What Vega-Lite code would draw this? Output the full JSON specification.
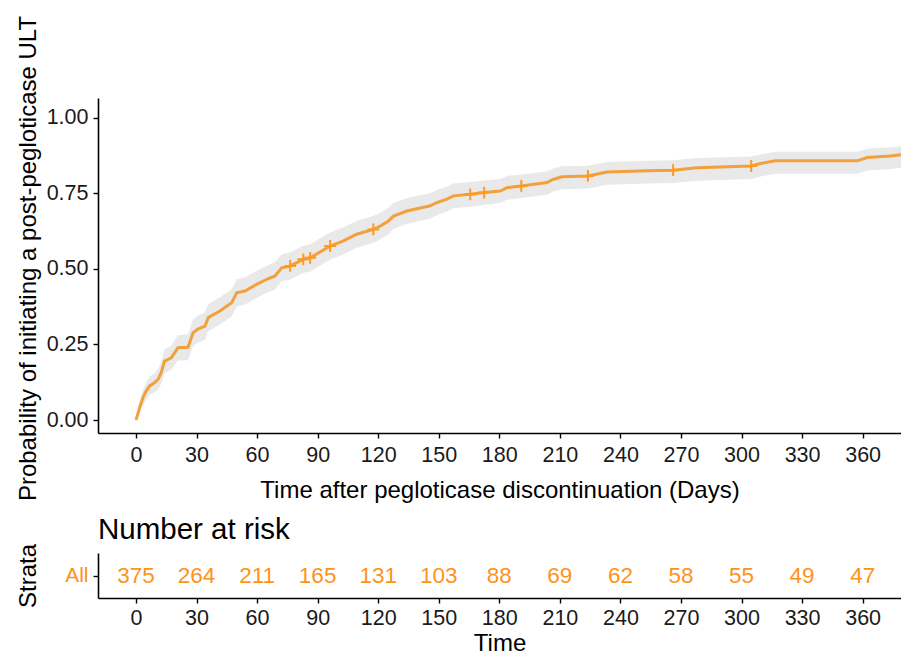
{
  "$schema": "https://vega.github.io/schema/vega-lite/v6.json",
  "background": "white",
  "padding": {"left": 15, "top": 15, "right": 0, "bottom": 0},
  "spacing": 11,
  "datasets": {
    "curve": [
      {"t": 0, "est": 0, "lo": 0, "hi": 0},
      {"t": 0.6, "est": 0.013, "lo": 0.002, "hi": 0.024},
      {"t": 2, "est": 0.045, "lo": 0.024, "hi": 0.066},
      {"t": 3.5, "est": 0.074, "lo": 0.048, "hi": 0.1},
      {"t": 5, "est": 0.095, "lo": 0.067, "hi": 0.123},
      {"t": 6.8, "est": 0.113, "lo": 0.083, "hi": 0.143},
      {"t": 9.3, "est": 0.124, "lo": 0.092, "hi": 0.156},
      {"t": 11, "est": 0.135, "lo": 0.1, "hi": 0.17},
      {"t": 12.5, "est": 0.157, "lo": 0.12, "hi": 0.194},
      {"t": 14.2, "est": 0.195, "lo": 0.156, "hi": 0.234},
      {"t": 17.5, "est": 0.206, "lo": 0.166, "hi": 0.246},
      {"t": 20.8, "est": 0.239, "lo": 0.197, "hi": 0.281},
      {"t": 25.8, "est": 0.241, "lo": 0.198, "hi": 0.284},
      {"t": 28.3, "est": 0.289, "lo": 0.245, "hi": 0.333},
      {"t": 30.7, "est": 0.301, "lo": 0.256, "hi": 0.346},
      {"t": 34.2, "est": 0.311, "lo": 0.266, "hi": 0.356},
      {"t": 35.8, "est": 0.339, "lo": 0.294, "hi": 0.384},
      {"t": 41.6, "est": 0.361, "lo": 0.316, "hi": 0.406},
      {"t": 47.4, "est": 0.388, "lo": 0.343, "hi": 0.433},
      {"t": 49.9, "est": 0.421, "lo": 0.376, "hi": 0.466},
      {"t": 54, "est": 0.427, "lo": 0.382, "hi": 0.472},
      {"t": 59.8, "est": 0.449, "lo": 0.404, "hi": 0.494},
      {"t": 64.8, "est": 0.466, "lo": 0.421, "hi": 0.511},
      {"t": 68.9, "est": 0.477, "lo": 0.432, "hi": 0.522},
      {"t": 72.2, "est": 0.504, "lo": 0.459, "hi": 0.549},
      {"t": 76.4, "est": 0.51, "lo": 0.465, "hi": 0.555},
      {"t": 82.9, "est": 0.532, "lo": 0.487, "hi": 0.577},
      {"t": 86.3, "est": 0.537, "lo": 0.492, "hi": 0.582},
      {"t": 96.2, "est": 0.576, "lo": 0.531, "hi": 0.621},
      {"t": 102.8, "est": 0.593, "lo": 0.548, "hi": 0.638},
      {"t": 109.4, "est": 0.615, "lo": 0.57, "hi": 0.66},
      {"t": 117.6, "est": 0.631, "lo": 0.587, "hi": 0.675},
      {"t": 121, "est": 0.642, "lo": 0.598, "hi": 0.686},
      {"t": 125.1, "est": 0.659, "lo": 0.615, "hi": 0.703},
      {"t": 127.6, "est": 0.675, "lo": 0.632, "hi": 0.718},
      {"t": 134.2, "est": 0.692, "lo": 0.649, "hi": 0.735},
      {"t": 145.8, "est": 0.709, "lo": 0.667, "hi": 0.751},
      {"t": 149.1, "est": 0.72, "lo": 0.678, "hi": 0.762},
      {"t": 154, "est": 0.731, "lo": 0.69, "hi": 0.772},
      {"t": 157.3, "est": 0.742, "lo": 0.701, "hi": 0.783},
      {"t": 165.6, "est": 0.747, "lo": 0.706, "hi": 0.788},
      {"t": 172.5, "est": 0.753, "lo": 0.712, "hi": 0.793},
      {"t": 180.5, "est": 0.758, "lo": 0.718, "hi": 0.798},
      {"t": 183.8, "est": 0.769, "lo": 0.729, "hi": 0.808},
      {"t": 190.9, "est": 0.775, "lo": 0.735, "hi": 0.813},
      {"t": 203.6, "est": 0.786, "lo": 0.746, "hi": 0.823},
      {"t": 206.9, "est": 0.797, "lo": 0.757, "hi": 0.833},
      {"t": 211.1, "est": 0.805, "lo": 0.764, "hi": 0.84},
      {"t": 223.9, "est": 0.808, "lo": 0.766, "hi": 0.842},
      {"t": 233.4, "est": 0.821, "lo": 0.779, "hi": 0.854},
      {"t": 253.2, "est": 0.825, "lo": 0.783, "hi": 0.858},
      {"t": 266.1, "est": 0.827, "lo": 0.785, "hi": 0.86},
      {"t": 278, "est": 0.835, "lo": 0.792, "hi": 0.867},
      {"t": 304.8, "est": 0.841, "lo": 0.798, "hi": 0.872},
      {"t": 309.4, "est": 0.849, "lo": 0.806, "hi": 0.879},
      {"t": 316.8, "est": 0.858, "lo": 0.815, "hi": 0.888},
      {"t": 357.3, "est": 0.858, "lo": 0.815, "hi": 0.888},
      {"t": 362.3, "est": 0.869, "lo": 0.826, "hi": 0.898},
      {"t": 373.8, "est": 0.874, "lo": 0.831, "hi": 0.903},
      {"t": 379, "est": 0.878, "lo": 0.835, "hi": 0.906}
    ],
    "censor": [
      {"t": 76.4, "est": 0.51},
      {"t": 82.9, "est": 0.532},
      {"t": 86.3, "est": 0.537},
      {"t": 96.2, "est": 0.576},
      {"t": 117.6, "est": 0.631},
      {"t": 165.6, "est": 0.747},
      {"t": 172.5, "est": 0.753},
      {"t": 190.9, "est": 0.775},
      {"t": 223.9, "est": 0.808},
      {"t": 266.1, "est": 0.827},
      {"t": 304.8, "est": 0.841}
    ],
    "risk": [
      {"t": 0, "strata": "All", "n": 375},
      {"t": 30, "strata": "All", "n": 264},
      {"t": 60, "strata": "All", "n": 211},
      {"t": 90, "strata": "All", "n": 165},
      {"t": 120, "strata": "All", "n": 131},
      {"t": 150, "strata": "All", "n": 103},
      {"t": 180, "strata": "All", "n": 88},
      {"t": 210, "strata": "All", "n": 69},
      {"t": 240, "strata": "All", "n": 62},
      {"t": 270, "strata": "All", "n": 58},
      {"t": 300, "strata": "All", "n": 55},
      {"t": 330, "strata": "All", "n": 49},
      {"t": 360, "strata": "All", "n": 47}
    ]
  },
  "config": {
    "font": "Liberation Sans",
    "view": {"stroke": null},
    "axis": {
      "grid": false,
      "domainColor": "#000000",
      "domainWidth": 1.6,
      "tickColor": "#000000",
      "tickWidth": 1.4,
      "tickSize": 5,
      "labelColor": "#1a1a1a",
      "labelFont": "Liberation Sans",
      "labelFontSize": 21.5,
      "titleFont": "Liberation Sans",
      "titleFontSize": 24,
      "titleFontWeight": "normal",
      "titleColor": "#000000"
    }
  },
  "vconcat": [
    {
      "width": 803,
      "height": 335,
      "layer": [
        {
          "data": {"name": "curve"},
          "mark": {"type": "area", "color": "#E9E9E9", "clip": true},
          "encoding": {
            "x": {"field": "t", "type": "quantitative", "scale": {"domain": [-18.8, 379], "nice": false, "zero": false},
                  "axis": {"values": [0, 30, 60, 90, 120, 150, 180, 210, 240, 270, 300, 330, 360], "labelPadding": 6, "titlePadding": 13, "title": "Time after pegloticase discontinuation (Days)", "labelFlush": false}},
            "y": {"field": "lo", "type": "quantitative", "scale": {"domain": [-0.043, 1.066], "nice": false, "zero": false},
                  "axis": {"values": [0, 0.25, 0.5, 0.75, 1], "format": ".2f", "labelPadding": 5, "title": "Probability of initiating a post-pegloticase ULT", "titleX": -58, "titleY": 160, "labelFlush": false}},
            "y2": {"field": "hi"}
          }
        },
        {
          "data": {"name": "curve"},
          "mark": {"type": "line", "color": "#F2A03E", "strokeWidth": 3, "clip": true},
          "encoding": {
            "x": {"field": "t", "type": "quantitative"},
            "y": {"field": "est", "type": "quantitative"}
          }
        },
        {
          "data": {"name": "censor"},
          "mark": {"type": "point", "shape": "M -1 0 L 1 0 M 0 -1 L 0 1", "filled": false, "stroke": "#FF9A1F", "strokeWidth": 2, "size": 140, "opacity": 1},
          "encoding": {
            "x": {"field": "t", "type": "quantitative"},
            "y": {"field": "est", "type": "quantitative"}
          }
        }
      ]
    },
    {
      "width": 803,
      "height": 45,
      "title": {"text": "Number at risk", "anchor": "start", "frame": "group", "fontSize": 29.5, "fontWeight": "normal", "font": "Liberation Sans", "color": "#000000", "offset": -2},
      "data": {"name": "risk"},
      "mark": {"type": "text", "fontSize": 22.5, "color": "#FF9219", "font": "Liberation Sans"},
      "encoding": {
        "x": {"field": "t", "type": "quantitative", "scale": {"domain": [-18.8, 379], "nice": false, "zero": false},
              "axis": {"values": [0, 30, 60, 90, 120, 150, 180, 210, 240, 270, 300, 330, 360], "labelPadding": 4, "titlePadding": 3, "title": "Time", "labelFlush": false}},
        "y": {"field": "strata", "type": "nominal", "scale": {"type": "point", "padding": 0.5},
              "axis": {"title": "Strata", "titleX": -58, "labelColor": "#FF9219", "labelFontSize": 21, "labelPadding": 5}},
        "text": {"field": "n", "type": "quantitative"}
      }
    }
  ]
}
